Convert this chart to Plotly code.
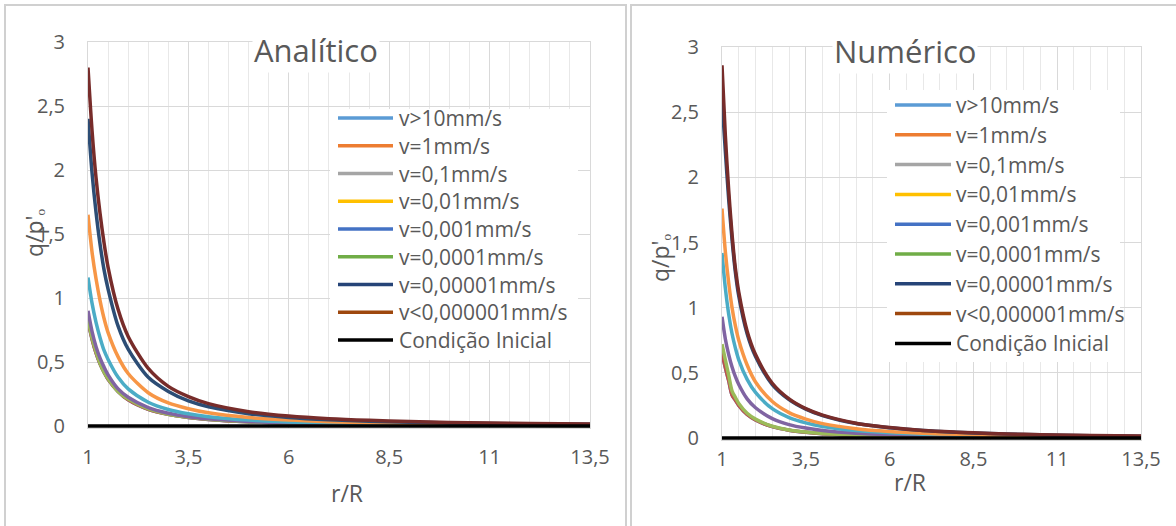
import plotly.graph_objects as go

W, H = 1176, 526

# ---------------- data ----------------
r = [1, 1.1, 1.2, 1.3, 1.4, 1.5, 1.75, 2, 2.5, 3, 3.5, 4, 5, 6, 7, 8, 9, 10, 11, 12, 13.5]

labels = ["v>10mm/s", "v=1mm/s", "v=0,1mm/s", "v=0,01mm/s", "v=0,001mm/s",
          "v=0,0001mm/s", "v=0,00001mm/s", "v<0,000001mm/s", "Condição Inicial"]

# Analítico
an_v10 = [0.82, 0.68, 0.57, 0.485, 0.42, 0.365, 0.27, 0.205, 0.131, 0.091, 0.067, 0.051, 0.033, 0.023, 0.017, 0.013, 0.010, 0.008, 0.007, 0.006, 0.0045]
an_v1 = [0.82, 0.68, 0.57, 0.485, 0.42, 0.365, 0.27, 0.205, 0.131, 0.091, 0.067, 0.051, 0.033, 0.023, 0.017, 0.013, 0.010, 0.008, 0.007, 0.006, 0.0045]
an_v0_1 = [0.83, 0.69, 0.58, 0.49, 0.42, 0.37, 0.27, 0.21, 0.133, 0.092, 0.068, 0.052, 0.033, 0.023, 0.017, 0.013, 0.010, 0.008, 0.007, 0.006, 0.0045]
an_v0_01 = [0.90, 0.74, 0.62, 0.53, 0.46, 0.40, 0.29, 0.225, 0.144, 0.10, 0.073, 0.056, 0.036, 0.025, 0.018, 0.014, 0.011, 0.009, 0.0075, 0.006, 0.005]
an_v0_001 = [1.16, 0.96, 0.81, 0.69, 0.59, 0.52, 0.38, 0.29, 0.186, 0.129, 0.095, 0.073, 0.046, 0.032, 0.024, 0.018, 0.014, 0.012, 0.010, 0.008, 0.006]
an_v0_0001 = [1.65, 1.36, 1.15, 0.98, 0.84, 0.73, 0.54, 0.41, 0.26, 0.18, 0.135, 0.103, 0.066, 0.046, 0.034, 0.026, 0.020, 0.017, 0.014, 0.011, 0.009]
an_v0_00001 = [2.40, 1.98, 1.67, 1.42, 1.22, 1.07, 0.78, 0.60, 0.38, 0.27, 0.196, 0.150, 0.096, 0.067, 0.049, 0.037, 0.030, 0.024, 0.020, 0.017, 0.013]
an_v0_000001 = [2.80, 2.31, 1.94, 1.66, 1.43, 1.24, 0.91, 0.70, 0.45, 0.31, 0.23, 0.175, 0.112, 0.078, 0.057, 0.044, 0.035, 0.028, 0.023, 0.019, 0.015]

# Numérico
num_v10 = [0.65, 0.54, 0.44, 0.33, 0.29, 0.25, 0.18, 0.138, 0.087, 0.060, 0.044, 0.033, 0.021, 0.014, 0.010, 0.0075, 0.006, 0.005, 0.004, 0.003, 0.0025]
num_v1 = [0.65, 0.54, 0.44, 0.33, 0.29, 0.25, 0.18, 0.138, 0.087, 0.060, 0.044, 0.033, 0.021, 0.014, 0.010, 0.0075, 0.006, 0.005, 0.004, 0.003, 0.0025]
num_v0_1 = [0.72, 0.60, 0.48, 0.36, 0.31, 0.265, 0.19, 0.145, 0.090, 0.062, 0.046, 0.035, 0.022, 0.015, 0.011, 0.008, 0.006, 0.005, 0.004, 0.003, 0.0025]
num_v0_01 = [0.93, 0.76, 0.64, 0.545, 0.47, 0.41, 0.30, 0.232, 0.149, 0.103, 0.076, 0.058, 0.037, 0.026, 0.019, 0.0145, 0.0115, 0.0093, 0.0077, 0.0065, 0.0051]
num_v0_001 = [1.42, 1.15, 0.95, 0.80, 0.69, 0.60, 0.45, 0.35, 0.225, 0.157, 0.116, 0.089, 0.057, 0.040, 0.029, 0.022, 0.018, 0.014, 0.012, 0.010, 0.008]
num_v0_0001 = [1.76, 1.43, 1.19, 1.00, 0.86, 0.75, 0.56, 0.43, 0.28, 0.195, 0.145, 0.11, 0.071, 0.049, 0.036, 0.028, 0.022, 0.018, 0.015, 0.012, 0.010]
num_v0_00001 = [2.60, 2.20, 1.83, 1.52, 1.27, 1.09, 0.80, 0.625, 0.41, 0.295, 0.222, 0.172, 0.111, 0.079, 0.057, 0.044, 0.034, 0.027, 0.022, 0.018, 0.014]
num_v0_000001 = [2.86, 2.32, 1.90, 1.56, 1.30, 1.12, 0.82, 0.64, 0.42, 0.30, 0.225, 0.175, 0.113, 0.080, 0.058, 0.045, 0.035, 0.028, 0.023, 0.019, 0.015]

# Condição inicial
ci_r = [1, 13.5]
ci_q = [0, 0]

x_tickvals = [1, 3.5, 6, 8.5, 11, 13.5]
x_ticktext = ["1", "3,5", "6", "8,5", "11", "13,5"]
y_tickvals = [0, 0.5, 1, 1.5, 2, 2.5, 3]
y_ticktext = ["0", "0,5", "1", "1,5", "2", "2,5", "3"]

# ---------------- styles ----------------
curve_colors = ["#4F81BD", "#C0504D", "#9BBB59", "#8064A2", "#4BACC6",
                "#F79646", "#2C4D75", "#772C2A", "#000000"]
legend_colors = ["#5B9BD5", "#ED7D31", "#A5A5A5", "#FFC000", "#4472C4",
                 "#70AD47", "#264478", "#9E480E", "#000000"]
FONT = "Open Sans"
GRAY = "#595959"

an_series = [an_v10, an_v1, an_v0_1, an_v0_01, an_v0_001, an_v0_0001, an_v0_00001, an_v0_000001]
num_series = [num_v10, num_v1, num_v0_1, num_v0_01, num_v0_001, num_v0_0001, num_v0_00001, num_v0_000001]

fig = go.Figure()

for xa, ya, series in (("x", "y", an_series), ("x2", "y2", num_series)):
    for i, vals in enumerate(series):
        fig.add_trace(go.Scatter(
            x=r, y=vals, mode="lines", name=labels[i], xaxis=xa, yaxis=ya,
            line=dict(color=curve_colors[i], width=3.5, shape="spline", smoothing=0.8),
            showlegend=False, hoverinfo="x+y+name"))
    fig.add_trace(go.Scatter(
        x=ci_r, y=ci_q, mode="lines", name=labels[8], xaxis=xa, yaxis=ya,
        line=dict(color="#000000", width=3.5), showlegend=False))


def px(x):
    return x / W


def py(y):
    return 1 - y / H


YMIN = -0.015  # small extra room so the zero line is not clipped


def xax(dom, anchor, standoff):
    return dict(domain=dom, range=[1, 13.5], tickmode="array", tickvals=x_tickvals,
                ticktext=x_ticktext, showgrid=True, gridcolor="#D9D9D9", gridwidth=1,
                minor=dict(tickmode="linear", tick0=1, dtick=0.5, showgrid=True,
                           gridcolor="#E8E8E8", gridwidth=1),
                zeroline=False, showline=True, linecolor="#D9D9D9", linewidth=1, mirror=True,
                ticks="", ticklabelstandoff=standoff, anchor=anchor, automargin=False,
                tickfont=dict(family=FONT, size=20, color=GRAY), fixedrange=True)


def yax(dom, anchor, standoff):
    return dict(domain=dom, range=[YMIN, 3], tickmode="array", tickvals=y_tickvals,
                ticktext=y_ticktext, showgrid=True, gridcolor="#D9D9D9", gridwidth=1,
                zeroline=False, showline=True, linecolor="#D9D9D9", linewidth=1, mirror=True,
                ticks="", ticklabelstandoff=standoff, anchor=anchor, automargin=False,
                tickfont=dict(family=FONT, size=20, color=GRAY), fixedrange=True)


# plot areas (pixel positions of r=1..13.5 and q=0..3)
L_x0, L_x1, L_y0, L_y3 = 88, 590, 426, 42
R_x0, R_x1, R_y0, R_y3 = 722, 1141, 438, 47
L_bot = L_y0 + (-YMIN) * (L_y0 - L_y3) / 3
R_bot = R_y0 + (-YMIN) * (R_y0 - R_y3) / 3

shapes = []
annotations = []

# outer frames
shapes.append(dict(type="rect", xref="paper", yref="paper", x0=px(5), x1=px(626),
                   y0=py(5), y1=py(540), line=dict(color="#D0D0D0", width=2), layer="below"))
shapes.append(dict(type="rect", xref="paper", yref="paper", x0=px(631), x1=px(1190),
                   y0=py(5), y1=py(540), line=dict(color="#D0D0D0", width=2), layer="below"))

# legends (manual, to match the original layout)
legend_specs = [
    dict(box=(330, 109, 578, 360), line_x=(338, 393), text_x=397, y0=118, dy=27.75),
    dict(box=(887, 90, 1120, 362), line_x=(895, 951), text_x=954, y0=105, dy=29.8),
]
for spec in legend_specs:
    bx0, by0, bx1, by1 = spec["box"]
    shapes.append(dict(type="rect", xref="paper", yref="paper", x0=px(bx0), x1=px(bx1),
                       y0=py(by0), y1=py(by1), fillcolor="white", line=dict(width=0),
                       layer="above"))
    for i, lab in enumerate(labels):
        yy = spec["y0"] + i * spec["dy"]
        shapes.append(dict(type="line", xref="paper", yref="paper",
                           x0=px(spec["line_x"][0]), x1=px(spec["line_x"][1]),
                           y0=py(yy), y1=py(yy),
                           line=dict(color=legend_colors[i], width=3.5), layer="above"))
        annotations.append(dict(text=lab, xref="paper", yref="paper", x=px(spec["text_x"]),
                                y=py(yy), xanchor="left", yanchor="middle", showarrow=False,
                                font=dict(family=FONT, size=21, color=GRAY)))

# titles
annotations.append(dict(text="Analítico", xref="paper", yref="paper", x=px(316), y=py(50),
                        xanchor="center", yanchor="middle", showarrow=False, bgcolor="white",
                        font=dict(family=FONT, size=31, color=GRAY)))
annotations.append(dict(text="Numérico", xref="paper", yref="paper", x=px(905), y=py(51),
                        xanchor="center", yanchor="middle", showarrow=False, bgcolor="white",
                        font=dict(family=FONT, size=31, color=GRAY)))
# axis titles
for xx, yy in ((347, 493), (910, 482)):
    annotations.append(dict(text="r/R", xref="paper", yref="paper", x=px(xx), y=py(yy),
                            xanchor="center", yanchor="middle", showarrow=False,
                            font=dict(family=FONT, size=23, color=GRAY)))
for xx, yy in ((34, 233), (660, 258)):
    annotations.append(dict(text="q/p'ₒ", xref="paper", yref="paper", x=px(xx),
                            y=py(yy), xanchor="center", yanchor="middle", showarrow=False,
                            textangle=-90, font=dict(family=FONT, size=23, color=GRAY)))

fig.update_layout(
    width=W, height=H,
    margin=dict(l=0, r=0, t=0, b=0, pad=0, autoexpand=False),
    paper_bgcolor="white", plot_bgcolor="white",
    xaxis=xax([px(L_x0), px(L_x1)], "y", 11),
    yaxis=yax([py(L_bot), py(L_y3)], "x", 18),
    xaxis2=xax([px(R_x0), px(R_x1)], "y2", 1),
    yaxis2=yax([py(R_bot), py(R_y3)], "x2", 18),
    shapes=shapes, annotations=annotations, showlegend=False,
    font=dict(family=FONT, color=GRAY),
)

fig.write_html("out.html", config={"displayModeBar": False},
               post_script="document.body.style.margin='0px';document.body.style.overflow='hidden';")
